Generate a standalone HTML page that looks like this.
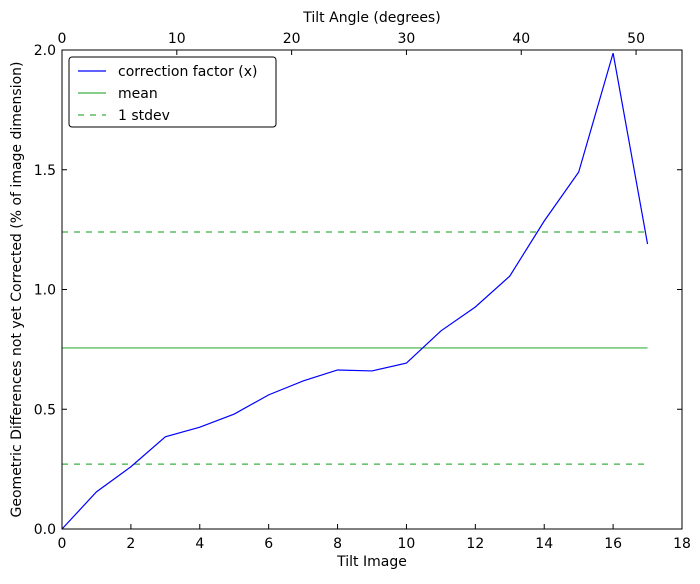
<!DOCTYPE html>
<html><head><meta charset="utf-8"><style>
body{margin:0;background:#fff;}
svg{font-family:"DejaVu Sans","Liberation Sans",sans-serif;}
</style></head><body>
<svg id="chart" width="700" height="579" xmlns="http://www.w3.org/2000/svg">
<rect width="700" height="579" fill="#fff"/>
<g id="plot"></g>
</svg>
<script>
const xCats=[0,1,2,3,4,5,6,7,8,9,10,11,12,13,14,15,16,17];
const corr=[0.0,0.155,0.26,0.385,0.425,0.48,0.56,0.618,0.664,0.66,0.693,0.827,0.927,1.056,1.286,1.49,1.987,1.19];
const meanVal=[0.756];
const stdLines=[1.24,0.271];
const xTicks=[0,2,4,6,8,10,12,14,16,18];
const yTicks=[0.0,0.5,1.0,1.5,2.0];
const topTicks=[0,10,20,30,40,50];
const L=62,R=682,T=50,B=529;
const FS=14;
const sx=v=>L+(v-0)/18*(R-L);
const sy=v=>B-(v/2.0)*(B-T);
const st=v=>L+v/54*(R-L);
const g=document.getElementById('plot');
const NS='http://www.w3.org/2000/svg';
function mk(tag,attrs,parent){const e=document.createElementNS(NS,tag);for(const k in attrs)e.setAttribute(k,attrs[k]);(parent||g).appendChild(e);return e;}
let e=mk('line',{x1:sx(0),x2:sx(17),y1:sy(meanVal[0]),y2:sy(meanVal[0]),stroke:'#3cb043','stroke-width':1.2});


stdLines.forEach((v,i)=>{const l=mk('line',{x1:sx(0),x2:sx(17),y1:sy(v),y2:sy(v),stroke:'#3cb043','stroke-width':1.2,'stroke-dasharray':'6,6'});

});
const p=mk('polyline',{points:xCats.map((x,i)=>sx(x)+','+sy(corr[i])).join(' '),fill:'none',stroke:'#0000ff','stroke-width':1.2});


const f=mk('rect',{x:L,y:T,width:R-L,height:B-T,fill:'none',stroke:'#000','stroke-width':1});


xTicks.forEach(v=>{const x=sx(v);
mk('line',{x1:x,x2:x,y1:B,y2:B-5,stroke:'#000'});
const t=mk('text',{x:x,y:B+19,'text-anchor':'middle','font-size':FS});t.textContent=v;

});
topTicks.forEach(v=>{const x=st(v);
mk('line',{x1:x,x2:x,y1:T,y2:T+5,stroke:'#000'});
const t=mk('text',{x:x,y:T-7,'text-anchor':'middle','font-size':FS});t.textContent=v;

});
yTicks.forEach(v=>{const y=sy(v);
mk('line',{x1:L,x2:L+5,y1:y,y2:y,stroke:'#000'});
mk('line',{x1:R,x2:R-5,y1:y,y2:y,stroke:'#000'});
const t=mk('text',{x:L-6,y:y+5,'text-anchor':'end','font-size':FS});t.textContent=v.toFixed(1);

});
let t=mk('text',{x:(L+R)/2,y:566,'text-anchor':'middle','font-size':FS});t.textContent='Tilt Image';


t=mk('text',{x:(L+R)/2,y:22,'text-anchor':'middle','font-size':FS});t.textContent='Tilt Angle (degrees)';


t=mk('text',{x:0,y:0,'text-anchor':'middle','font-size':FS,transform:'translate(21,'+((T+B)/2)+') rotate(-90)'});t.textContent='Geometric Differences not yet Corrected (% of image dimension)';


const lg=mk('g',{});


mk('rect',{x:69,y:57,width:207,height:70,rx:3,fill:'#fff',stroke:'#000'},lg);
const items=[['correction factor (x)','#0000ff',null],['mean','#3cb043',null],['1 stdev','#3cb043','6,6']];
items.forEach((it,i)=>{const y=71+i*22;
const a={x1:78,x2:106,y1:y,y2:y,stroke:it[1],'stroke-width':1.2};if(it[2])a['stroke-dasharray']=it[2];
mk('line',a,lg);
const tx=mk('text',{x:118,y:y+5,'font-size':FS},lg);tx.textContent=it[0];

});
</script>
</body></html>
